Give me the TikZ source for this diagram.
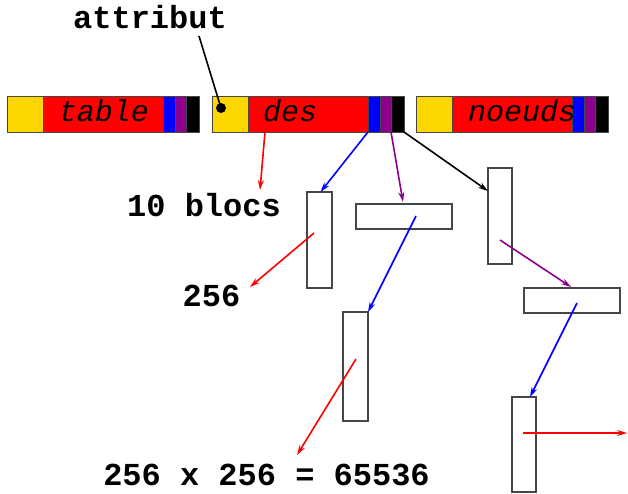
\documentclass[tikz,border=0pt]{standalone}
\usepackage{fontspec}
\setmonofont{Liberation Mono}
\usetikzlibrary{arrows.meta,calc}
\definecolor{gold}{RGB}{255,215,0}
\definecolor{purp}{RGB}{140,0,140}
\definecolor{edge}{RGB}{70,70,70}
\newcommand\mkbar[3]{%
  \node[seg,fill=gold,minimum width=36pt] (#1y) at (#2,96) {};
  \node[seg,fill=red,minimum width=120pt] (#1r) at (#2+36,96) {};
  \node[seg,fill=blue,minimum width=12pt] (#1b) at (#2+156,96) {};
  \node[seg,fill=purp,minimum width=11pt] (#1p) at (#2+168,96) {};
  \node[seg,fill=black,minimum width=13pt] (#1k) at (#2+179,96) {};
  \node[fld,anchor=base] (#1t) at (#3,121) {#1};
}
\begin{document}
\begin{tikzpicture}[x=1pt,y=-1pt,
  seg/.style={draw=edge,line width=1pt,inner sep=0pt,outer sep=0pt,minimum height=36pt,anchor=north west},
  box/.style={draw=edge,line width=1.4pt,inner sep=0pt,outer sep=0pt,anchor=north west},
  lbl/.style={font=\ttfamily\bfseries\fontsize{32}{36}\selectfont,inner sep=0pt,anchor=base},
  fld/.style={font=\ttfamily\itshape\fontsize{30}{34}\selectfont,inner sep=0pt},
  arr/.style={-{Stealth[length=10pt,width=6pt]},line width=1.6pt}]
\useasboundingbox (0,0) rectangle (628,493);
\mkbar{table}{7}{104}
\mkbar{des}{212}{290}
\mkbar{noeuds}{416}{522}
% boxes
\node[box,minimum width=25pt,minimum height=96pt] (A) at (307,192) {};
\node[box,minimum width=96pt,minimum height=25pt] (B) at (356,204) {};
\node[box,minimum width=24pt,minimum height=96pt] (C) at (488,168) {};
\node[box,minimum width=96pt,minimum height=25pt] (D) at (524,288) {};
\node[box,minimum width=25pt,minimum height=109pt] (E) at (343,312) {};
\node[box,minimum width=24pt,minimum height=95pt] (F) at (512,397) {};
% labels
\node[lbl] (attr) at (150,28) {attribut};
\node[lbl] (blocs) at (204,216) {10 blocs};
\node[lbl] (n256) at (211.5,306) {256};
\node[lbl] (prod) at (266.5,485) {256 x 256 = 65536};
% attribut pointer
\coordinate (attrtail) at (199,36);
\node[circle,fill=black,inner sep=0pt,minimum size=10pt] (dot) at (221,108) {};
\draw[line width=1.6pt] (attrtail) -- (dot.center);
% arrow ends
\coordinate (s1) at ($(desr.south west)+(17,0)$);
\coordinate (e1) at (260,190);
\coordinate (sA) at (314,233);
\coordinate (eA) at (250,287);
\coordinate (sB) at (416,216);
\coordinate (sC) at (500,240);
\coordinate (sD) at (577,303);
\coordinate (sE) at (356,359);
\coordinate (eE) at (297,455);
\coordinate (sF) at (523,433);
\coordinate (eF) at (627,433);
% arrows from des
\draw[arr,red] (s1) -- (e1);
\draw[arr,blue] (desb.south west) -- ($(A.north)+(1,0)$);
\draw[arr,purp] (desp.south east) -- ($(B.north)+(-1,-2)$);
\draw[arr,black] (desk.south east) -- ($(C.north west)+(0,23)$);
% arrows from boxes
\draw[arr,red] (sA) -- (eA);
\draw[arr,blue] (sB) -- (E.north east);
\draw[arr,purp] (sC) -- ($(D.north)+(-1,-1)$);
\draw[arr,blue] (sD) -- ($(F.north)+(6,0)$);
\draw[arr,red] (sE) -- (eE);
\draw[arr,red] (sF) -- (eF);
\end{tikzpicture}
\end{document}
